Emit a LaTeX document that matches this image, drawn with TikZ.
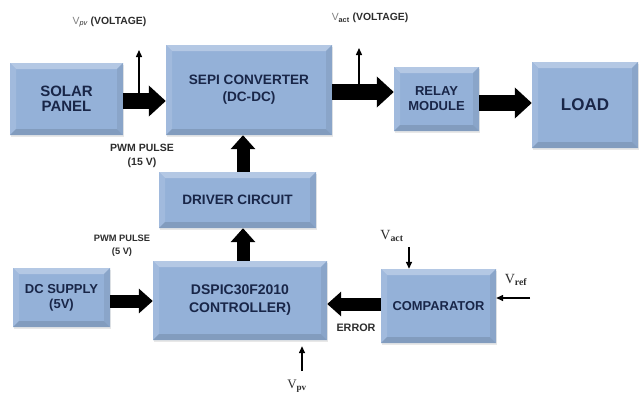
\documentclass[tikz,border=0pt]{standalone}
\usepackage{fontspec}
\setmainfont{Liberation Sans}
\newfontfamily\serifb{Liberation Serif}
\usetikzlibrary{arrows.meta,shadows}
\definecolor{boxc}{RGB}{148,177,216}
\definecolor{txtc}{RGB}{25,38,72}
\definecolor{lblc}{RGB}{45,45,45}
\newcommand{\fsz}[2]{\fontsize{#1}{#2}\selectfont\bfseries}
\tikzset{
 blk/.style={rectangle, fill=boxc, align=center, text=txtc, inner sep=0pt,
   drop shadow={shadow xshift=1pt, shadow yshift=-1.5pt, opacity=0.18, fill=gray},
   path picture={
     \fill[boxc!70!white] (path picture bounding box.north west) -- (path picture bounding box.north east)
        -- ([xshift=-6pt,yshift=-6pt]path picture bounding box.north east) -- ([xshift=6pt,yshift=-6pt]path picture bounding box.north west) -- cycle;
     \fill[boxc!88!white] (path picture bounding box.north west) -- (path picture bounding box.south west)
        -- ([xshift=6pt,yshift=6pt]path picture bounding box.south west) -- ([xshift=6pt,yshift=-6pt]path picture bounding box.north west) -- cycle;
     \fill[boxc!93!black] (path picture bounding box.north east) -- (path picture bounding box.south east)
        -- ([xshift=-6pt,yshift=6pt]path picture bounding box.south east) -- ([xshift=-6pt,yshift=-6pt]path picture bounding box.north east) -- cycle;
     \fill[boxc!88!black] (path picture bounding box.south west) -- (path picture bounding box.south east)
        -- ([xshift=-6pt,yshift=6pt]path picture bounding box.south east) -- ([xshift=6pt,yshift=6pt]path picture bounding box.south west) -- cycle;
   }},
 bigarrow/.style={line width=16pt, -{Triangle[width=30pt,length=17pt]}, black},
 midarrow/.style={line width=13pt, -{Triangle[width=24pt,length=14pt]}, black},
 thinarrow/.style={line width=1.4pt, -{Triangle[width=6pt,length=7pt]}, black},
 lbl/.style={text=lblc, align=center, inner sep=0pt}
}
\begin{document}
\begin{tikzpicture}[x=1pt,y=-1pt]
\useasboundingbox (0,0) rectangle (639,392);
% blocks
\node[blk, minimum width=113pt, minimum height=72pt, font=\fsz{15}{15}] (solar) at (66.5,99) {SOLAR\\PANEL};
\node[blk, minimum width=166pt, minimum height=90pt, font=\fsz{13.6}{17}] (sepi) at (249,90) {SEPI CONVERTER\\(DC-DC)};
\node[blk, minimum width=85pt, minimum height=64pt, font=\fsz{13}{15}] (relay) at (436.5,99) {RELAY\\MODULE};
\node[blk, minimum width=106pt, minimum height=86pt, font=\fsz{17}{17}] (load) at (585,105) {LOAD};
\node[blk, minimum width=157pt, minimum height=56pt, font=\fsz{13.6}{16}] (driver) at (237.5,200) {DRIVER CIRCUIT};
\node[blk, minimum width=174pt, minimum height=79pt, font=\fsz{14}{18}] (dspic) at (240,300.5) {DSPIC30F2010\\CONTROLLER)};
\node[blk, minimum width=97pt, minimum height=59pt, font=\fsz{13}{15}] (dc) at (61.5,297.5) {DC SUPPLY\\(5V)};
\node[blk, minimum width=115pt, minimum height=74pt, font=\fsz{12.9}{15}] (comp) at (438.5,306) {COMPARATOR};
% thick arrows
\draw[bigarrow] (solar.east |- 0,101) -- (sepi.west |- 0,101);
\draw[bigarrow] (sepi.east |- 0,92) -- (relay.west |- 0,92);
\draw[bigarrow] (relay.east |- 0,103) -- (load.west |- 0,103);
\draw[midarrow] (243,0 |- driver.north) -- (243,0 |- sepi.south);
\draw[midarrow] (243,0 |- dspic.north) -- (243,0 |- driver.south);
\draw[midarrow] (dc.east |- 0,301) -- (dspic.west |- 0,301);
\draw[midarrow] (comp.west |- 0,304) -- (dspic.east |- 0,304);
% voltage taps
\coordinate (vpvtap) at (139,101);
\coordinate (vpvend) at (139,50);
\draw[thinarrow] (vpvtap) -- (vpvend);
\coordinate (vacttap) at (359,92);
\coordinate (vactend) at (359,48);
\draw[thinarrow] (vacttap) -- (vactend);
\node[lbl, font=\fsz{10.4}{12}] (vpvl) at (109.5,22) {{\mdseries\color{gray} V}\textsubscript{\itshape\mdseries pv} (VOLTAGE)};
\node[lbl, font=\fsz{10.4}{12}] (vactl) at (370,18) {{\mdseries\color{gray} V}\textsubscript{act} (VOLTAGE)};
% pwm labels
\node[lbl, font=\fsz{10.5}{14}] (pwm15) at (142,156) {PWM PULSE\\(15 V)};
\node[lbl, font=\fsz{9.3}{13}] (pwm5) at (122,246) {PWM PULSE\\(5 V)};
% comparator inputs
\coordinate (vactin) at (409,247);
\draw[thinarrow] (vactin) -- (409,0 |- comp.north);
\node[lbl, font=\serifb\fontsize{14}{16}\selectfont] (vactc) at (392,236) {V\textsubscript{\bfseries act}};
\coordinate (vrefin) at (530,298);
\draw[thinarrow] (vrefin) -- (comp.east |- 0,298);
\node[lbl, font=\serifb\fontsize{14}{16}\selectfont] (vrefc) at (516,280) {V\textsubscript{\bfseries ref}};
\node[lbl, font=\fsz{10.8}{12}] (err) at (356,328) {ERROR};
\coordinate (vpvin) at (302,371);
\draw[thinarrow, shorten >=6pt] (vpvin) -- (302,0 |- dspic.south);
\node[lbl, font=\serifb\fontsize{13}{15}\selectfont] (vpvb) at (297,386) {V\textsubscript{\bfseries pv}};
\end{tikzpicture}
\end{document}
